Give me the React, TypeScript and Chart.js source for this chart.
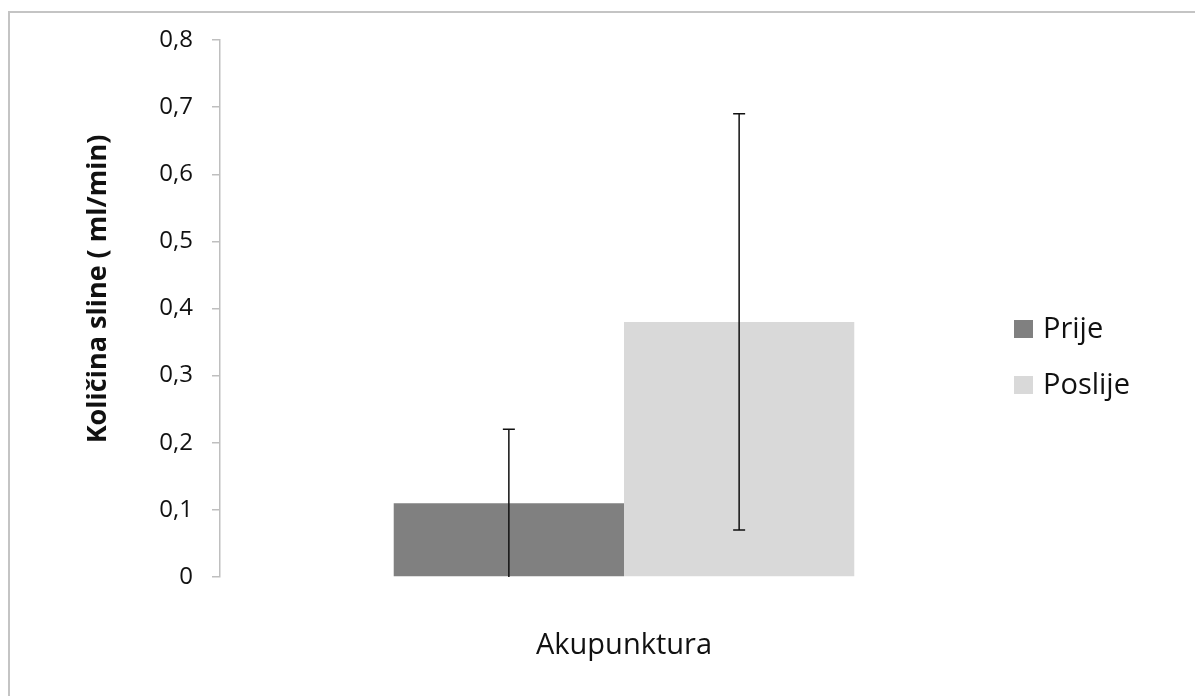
import React, { useEffect, useRef } from "react";
import { Chart, registerables } from "chart.js";

Chart.register(...registerables);

const categories = ["Akupunktura"];
const seriesNames = ["Prije", "Poslije"];
const prijeValues = [0.11];
const poslijeValues = [0.38];
const prijeErrLow = [0];
const prijeErrHigh = [0.22];
const poslijeErrLow = [0.07];
const poslijeErrHigh = [0.69];
const yTicks = [0, 0.1, 0.2, 0.3, 0.4, 0.5, 0.6, 0.7, 0.8];
const yTitle = "Količina sline ( ml/min)";

const FONT = "'Open Sans', 'Noto Sans', sans-serif";

export default function App() {
  const ref = useRef<HTMLCanvasElement | null>(null);

  useEffect(() => {
    document.body.style.margin = "0";
    const canvas = ref.current;
    if (!canvas) return;
    const errs = [
      { low: prijeErrLow, high: prijeErrHigh },
      { low: poslijeErrLow, high: poslijeErrHigh },
    ];
    const errorBars = {
      id: "errorBars",
      afterDatasetsDraw(chart: any) {
        const ctx = chart.ctx;
        const ys = chart.scales.y;
        ctx.save();
        ctx.strokeStyle = "#111";
        ctx.lineWidth = 1.5;
        chart.data.datasets.forEach((ds: any, di: number) => {
          const meta = chart.getDatasetMeta(di);
          meta.data.forEach((el: any, i: number) => {
            const x = el.x;
            const yl = ys.getPixelForValue(errs[di].low[i]);
            const yh = ys.getPixelForValue(errs[di].high[i]);
            ctx.beginPath();
            ctx.moveTo(x, yl);
            ctx.lineTo(x, yh);
            ctx.moveTo(x - 6, yh);
            ctx.lineTo(x + 6, yh);
            if (errs[di].low[i] > 0) {
              ctx.moveTo(x - 6, yl);
              ctx.lineTo(x + 6, yl);
            }
            ctx.stroke();
          });
        });
        ctx.restore();
      },
    };
    const extras = {
      id: "extras",
      afterDraw(chart: any) {
        const ctx = chart.ctx;
        ctx.save();
        ctx.fillStyle = "#111";
        ctx.font = `bold 27px ${FONT}`;
        ctx.textAlign = "center";
        ctx.textBaseline = "middle";
        ctx.translate(98, 289);
        ctx.rotate(-Math.PI / 2);
        ctx.fillText(yTitle, 0, 0);
        ctx.restore();
        ctx.save();
        ctx.font = `29px ${FONT}`;
        ctx.textAlign = "left";
        ctx.textBaseline = "middle";
        chart.data.datasets.forEach((ds: any, di: number) => {
          const cy = 329 + di * 56;
          ctx.fillStyle = ds.backgroundColor;
          ctx.fillRect(1014, cy - 9, 19, 18);
          ctx.fillStyle = "#111";
          ctx.fillText(ds.label, 1043, cy + 1);
        });
        ctx.restore();
      },
    };
    const chart = new Chart(canvas, {
      type: "bar",
      data: {
        labels: categories,
        datasets: [
          { label: seriesNames[0], data: prijeValues, backgroundColor: "#808080" },
          { label: seriesNames[1], data: poslijeValues, backgroundColor: "#d9d9d9" },
        ],
      },
      options: {
        animation: false,
        responsive: false,
        devicePixelRatio: 1,
        layout: { padding: { top: 40, right: 167, bottom: 0, left: 0 }, autoPadding: false },
        datasets: { bar: { categoryPercentage: 0.57, barPercentage: 1 } },
        plugins: { legend: { display: false }, tooltip: { enabled: false } },
        scales: {
          x: {
            grid: { display: false },
            border: { display: false },
            ticks: { font: { family: FONT, size: 29 }, color: "#111", padding: 43 },
            afterFit: (s: any) => { s.height = 119; },
          },
          y: {
            min: 0,
            max: 0.8,
            afterBuildTicks: (s: any) => { s.ticks = yTicks.map((v) => ({ value: v })); },
            grid: { drawOnChartArea: false, drawTicks: true, tickLength: 8, color: "#bfbfbf", lineWidth: 1.5 },
            border: { display: true, color: "#bfbfbf", width: 1.5 },
            ticks: {
              font: { family: FONT, size: 24 },
              color: "#111",
              padding: 19,
              callback: (v: any) => (Number(v) === 0 ? "0" : Number(v).toFixed(1).replace(".", ",")),
            },
            afterFit: (s: any) => { s.width = 220; },
          },
        },
      },
      plugins: [errorBars, extras],
    });
    return () => chart.destroy();
  }, []);

  return (
    <div style={{ position: "relative", width: 1195, height: 696, overflow: "hidden", background: "#fff" }}>
      <div
        style={{
          position: "absolute",
          left: 8,
          top: 11,
          width: 1200,
          height: 700,
          border: "2px solid #c4c4c4",
          boxSizing: "border-box",
        }}
      />
      <canvas ref={ref} width={1195} height={696} style={{ position: "absolute", left: 0, top: 0 }} />
    </div>
  );
}
